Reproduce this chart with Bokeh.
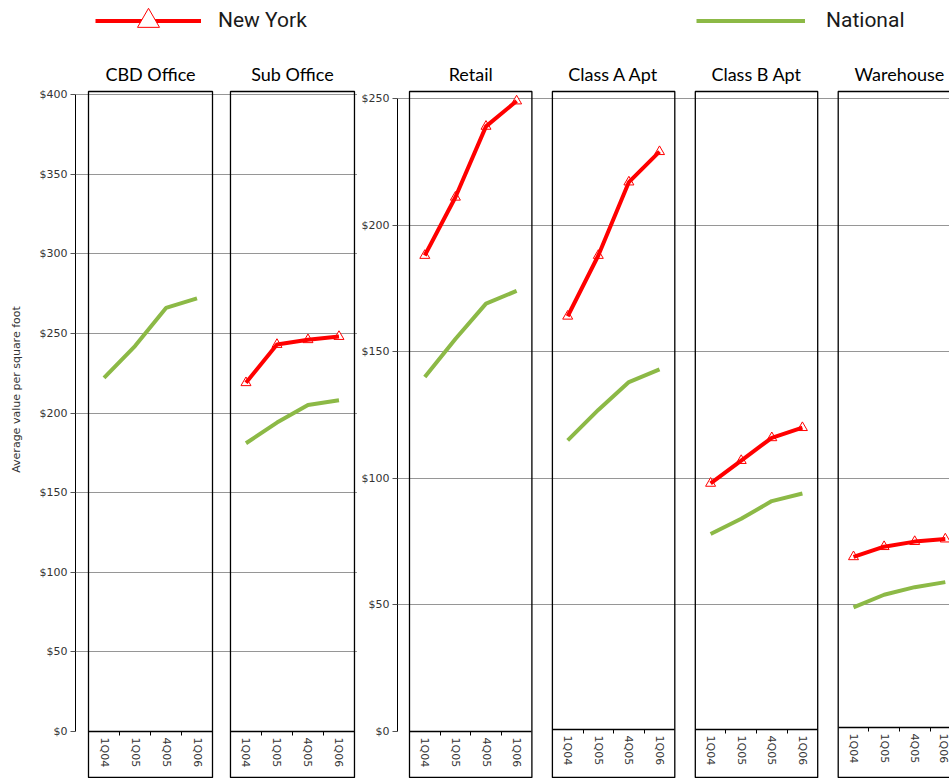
from bokeh.plotting import figure
from bokeh.layouts import row
from bokeh.models import (Range1d, LinearAxis, FixedTicker, PrintfTickFormatter,
                          Legend, LegendItem)
from bokeh.core.properties import value
from bokeh.embed import file_html
from bokeh.resources import INLINE

# ---------------- data ----------------
quarters = ["1Q04", "1Q05", "4Q05", "1Q06"]

left_panels = ["CBD Office", "Sub Office"]
right_panels = ["Retail", "Class A Apt", "Class B Apt", "Warehouse"]

cbd_office_new_york = []
cbd_office_national = [222, 242, 266, 272]
sub_office_new_york = [219, 243, 246, 248]
sub_office_national = [181, 194, 205, 208]
retail_new_york = [188, 211, 239, 249]
retail_national = [140, 155, 169, 174]
class_a_apt_new_york = [164, 188, 217, 229]
class_a_apt_national = [115, 127, 138, 143]
class_b_apt_new_york = [98, 107, 116, 120]
class_b_apt_national = [78, 84, 91, 94]
warehouse_new_york = [69, 73, 75, 76]
warehouse_national = [49, 54, 57, 59]

left_y_ticks = [0, 50, 100, 150, 200, 250, 300, 350, 400]
right_y_ticks = [0, 50, 100, 150, 200, 250]

left_new_york = [cbd_office_new_york, sub_office_new_york]
left_national = [cbd_office_national, sub_office_national]
right_new_york = [retail_new_york, class_a_apt_new_york, class_b_apt_new_york, warehouse_new_york]
right_national = [retail_national, class_a_apt_national, class_b_apt_national, warehouse_national]

# ---------------- styling / layout ----------------
RED = "#FF0000"
GREEN = "#8CB946"
GRID = "#969696"
TICK_FONT = "DejaVu Sans"
TITLE_FONT = "Lato"
LEGEND_FONT = "Roboto"

FRAME_TOP_PX = 0      # page y of frame top
FRAME_BOTTOM_PX = 778  # page y of frame bottom
ZERO_PX = 731          # page y of $0
BOX_TOP_PX = 91
BOX_BOTTOM_PX = 777
TITLE_PX = 73

LEFT_GEO = dict(width=357, border_left=75, border_right=0, frame_left_px=75, frame_right_px=357,
                unit_px=31.0, stride=4.58, first_center_px=103.5, top_tick_px=94,
                axis_lift_px=[0, 0], legend_x=20, legend_standoff=17, legend_glyph_w=106)
RIGHT_GEO = dict(width=592, border_left=40, border_right=0, frame_left_px=397, frame_right_px=949,
                 unit_px=30.6, stride=4.67, first_center_px=424.3, top_tick_px=98,
                 axis_lift_px=[0, 2, 2, 4], legend_x=299, legend_standoff=21, legend_glyph_w=109)


def build(panels, ny_series, nat_series, y_ticks, geo, legend_key, y_label=None):
    y_max = y_ticks[-1]
    px_per_y = (ZERO_PX - geo["top_tick_px"]) / y_max
    unit = geo["unit_px"]
    stride = geo["stride"]
    nq = len(quarters)
    x_start = -(geo["first_center_px"] - geo["frame_left_px"]) / unit
    x_end = (geo["frame_right_px"] - geo["first_center_px"]) / unit
    y_start = -(FRAME_BOTTOM_PX - ZERO_PX) / px_per_y
    y_end = y_max + (geo["top_tick_px"] - FRAME_TOP_PX) / px_per_y

    p = figure(width=geo["width"], height=FRAME_BOTTOM_PX - FRAME_TOP_PX,
               x_range=Range1d(x_start, x_end), y_range=Range1d(y_start, y_end),
               x_axis_type=None, output_backend="svg", toolbar_location=None,
               min_border_left=geo["border_left"], min_border_right=geo["border_right"],
               min_border_top=0, min_border_bottom=0)
    p.outline_line_color = None
    p.background_fill_color = "white"
    p.border_fill_color = "white"

    # y axis
    yax = p.yaxis[0]
    yax.ticker = FixedTicker(ticks=y_ticks)
    yax.bounds = (0, y_max)
    yax.formatter = PrintfTickFormatter(format="$%d")
    yax.major_tick_out = 5
    yax.major_tick_in = 0
    yax.minor_tick_line_color = None
    yax.major_tick_line_color = "#555555"
    yax.axis_line_color = "black"
    yax.major_label_standoff = 3
    yax.major_label_text_font = TICK_FONT
    yax.major_label_text_font_size = "11px"
    yax.major_label_text_color = "#333333"
    if y_label:
        yax.axis_label = y_label
        yax.axis_label_text_font = TICK_FONT
        yax.axis_label_text_font_size = "11px"
        yax.axis_label_text_font_style = "normal"
        yax.axis_label_text_color = "#333333"
        yax.axis_label_standoff = 14

    p.ygrid.ticker = FixedTicker(ticks=[t for t in y_ticks if t > 0])
    p.ygrid.grid_line_color = GRID
    p.ygrid.grid_line_width = 1

    # panel boxes
    box_top = y_max + (geo["top_tick_px"] - BOX_TOP_PX) / px_per_y
    box_bottom = -(BOX_BOTTOM_PX - ZERO_PX) / px_per_y
    lefts = [k * stride - 0.5 for k in range(len(panels))]
    rights = [k * stride + nq - 0.5 for k in range(len(panels))]
    p.quad(left=lefts, right=rights, top=box_top, bottom=box_bottom,
           fill_color=None, line_color="black", line_width=1.3)

    # panel titles
    title_y = (ZERO_PX - TITLE_PX) / px_per_y
    p.text(x=[k * stride + (nq - 1) / 2 for k in range(len(panels))], y=[title_y] * len(panels),
           text=panels, text_align="center", text_baseline="middle",
           text_font=value(TITLE_FONT), text_font_size="18px", text_color="black")

    # per-panel x axes
    for k, lift in enumerate(geo["axis_lift_px"]):
        centers = [k * stride + i for i in range(nq)]
        ax = LinearAxis(fixed_location=lift / px_per_y,
                        bounds=(k * stride - 0.5, k * stride + nq - 0.5),
                        ticker=FixedTicker(ticks=centers,
                                           minor_ticks=[k * stride + i + 0.5 for i in range(nq - 1)]),
                        major_label_overrides={c: q for c, q in zip(centers, quarters)},
                        major_label_orientation="vertical",
                        major_tick_line_color=None, major_tick_out=0, major_tick_in=0,
                        minor_tick_in=0, minor_tick_out=4, minor_tick_line_color="black",
                        axis_line_color="black", axis_line_width=1.3,
                        major_label_standoff=2,
                        major_label_text_font=TICK_FONT, major_label_text_font_size="11px",
                        major_label_text_color="#333333")
        p.add_layout(ax, "below")

    # series
    legend_renderers = {"New York": [], "National": []}
    for k, (ny, nat) in enumerate(zip(ny_series, nat_series)):
        xs = [k * stride + i for i in range(nq)]
        if nat:
            r_nat = p.line(xs, nat, line_color=GREEN, line_width=4)
            if not legend_renderers["National"]:
                legend_renderers["National"] = [r_nat]
        if ny:
            r_mk = p.scatter(xs, ny, marker="triangle", size=10, fill_color="white",
                             line_color=RED, line_width=1)
            r_ny = p.line(xs, ny, line_color=RED, line_width=4)
            if not legend_renderers["New York"]:
                legend_renderers["New York"] = [r_ny, r_mk]

    glyph_h = 55
    frame_h = FRAME_BOTTOM_PX - FRAME_TOP_PX
    legend_center_px = 20
    vy = frame_h - (legend_center_px - glyph_h / 2 - FRAME_TOP_PX) - glyph_h
    leg = Legend(items=[LegendItem(label=legend_key, renderers=legend_renderers[legend_key])],
                 location=(geo["legend_x"], vy), glyph_width=geo["legend_glyph_w"], glyph_height=glyph_h,
                 label_standoff=geo["legend_standoff"], padding=0, margin=0, spacing=0,
                 border_line_color=None, background_fill_alpha=0,
                 label_text_font=LEGEND_FONT, label_text_font_size="21px",
                 label_text_color="#1a1a1a")
    p.add_layout(leg)
    return p


left = build(left_panels, left_new_york, left_national, left_y_ticks, LEFT_GEO, "New York",
             y_label="Average value per square foot")
right = build(right_panels, right_new_york, right_national, right_y_ticks, RIGHT_GEO, "National")

layout = row(left, right, spacing=0)
open("out.html", "w").write(file_html(layout, INLINE))
